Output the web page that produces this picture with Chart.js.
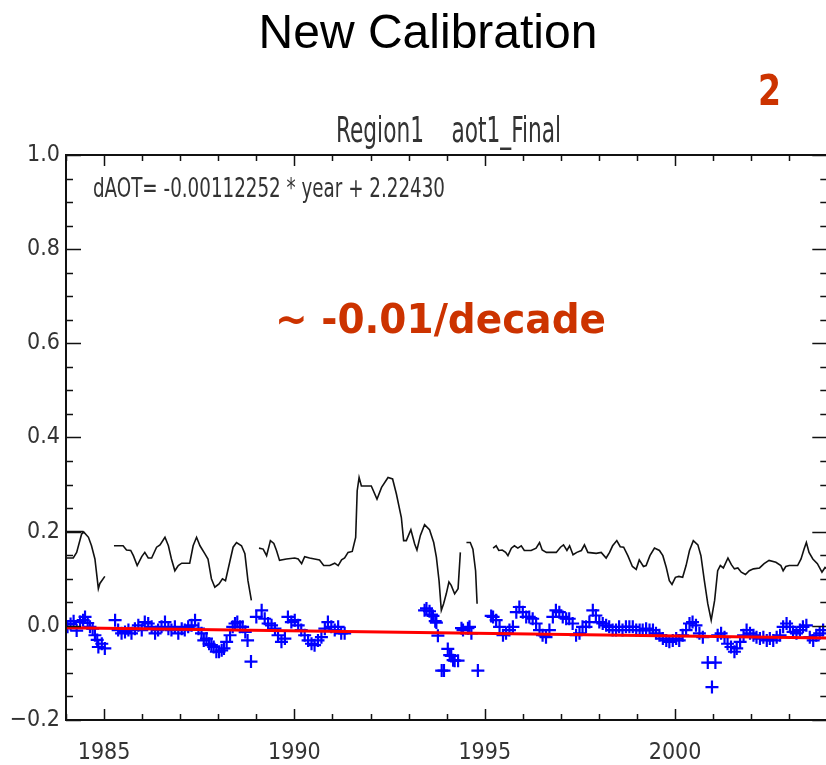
<!DOCTYPE html>
<html>
<head>
<meta charset="utf-8">
<title>New Calibration - Region1 aot1_Final</title>
<script src="https://cdn.jsdelivr.net/npm/chart.js@4/dist/chart.umd.min.js"></script>
<style>
  html, body { margin: 0; padding: 0; background: #fff; overflow: hidden; }
  #wrap { position: absolute; left: 0; top: 0; width: 836px; height: 765px; }
</style>
</head>
<body>
<div id="wrap"><canvas id="aotChart" width="836" height="765"></canvas></div>
<script>
// --- Data ---
const xTickYears = [1985, 1990, 1995, 2000];
const yTickValues = [-0.2, 0.0, 0.2, 0.4, 0.6, 0.8, 1.0];

// black AOT curve (null = gap in the record)
const aotYears = [
  1984.00, 1984.46, 1984.46,
  1984.00, 1984.19, 1984.28, 1984.41, 1984.47, 1984.59, 1984.67, 1984.76, 1984.85, 1984.89, 1985.02, 1985.10,
  1985.26, 1985.50, 1985.59, 1985.70, 1985.77, 1985.87, 1985.99, 1986.07, 1986.16, 1986.25, 1986.38, 1986.47,
  1986.60, 1986.69, 1986.77, 1986.86, 1986.95, 1987.04, 1987.25, 1987.34, 1987.43, 1987.52, 1987.65, 1987.73,
  1987.82, 1987.91, 1988.02, 1988.11, 1988.19, 1988.30, 1988.39, 1988.48, 1988.61, 1988.70, 1988.78, 1988.87, 1988.95,
  1989.07, 1989.18, 1989.27, 1989.37, 1989.46, 1989.53, 1989.61, 1989.79, 1990.01, 1990.10, 1990.19, 1990.27,
  1990.40, 1990.53, 1990.66, 1990.77, 1990.93, 1991.06, 1991.15, 1991.24, 1991.32, 1991.41, 1991.52, 1991.61,
  1991.65, 1991.70, 1991.76, 1992.02, 1992.17, 1992.29, 1992.46, 1992.58, 1992.68, 1992.81, 1992.87, 1992.94,
  1993.06, 1993.16, 1993.22, 1993.31, 1993.42, 1993.55, 1993.66, 1993.73, 1993.80, 1993.86, 1993.92, 1993.99,
  1994.06, 1994.12, 1994.21, 1994.30, 1994.36, 1994.44,
  1994.52, 1994.62, 1994.69, 1994.76, 1994.80, 1994.90,
  1995.22, 1995.30, 1995.37, 1995.46, 1995.55, 1995.61, 1995.70, 1995.78, 1995.87, 1995.96, 1996.04, 1996.22,
  1996.35, 1996.44, 1996.51, 1996.62, 1996.88, 1996.99, 1997.07, 1997.16, 1997.23, 1997.32, 1997.42, 1997.54,
  1997.62, 1997.71, 1997.93, 1998.06, 1998.19, 1998.28, 1998.36, 1998.47, 1998.56, 1998.65, 1998.76, 1998.88,
  1998.98, 1999.06, 1999.17, 1999.24, 1999.34, 1999.46, 1999.59, 1999.68, 1999.77, 1999.85, 1999.92, 2000.01,
  2000.10, 2000.20, 2000.29, 2000.38, 2000.48, 2000.60, 2000.68, 2000.77, 2000.86, 2000.95, 2001.04, 2001.12,
  2001.19, 2001.27, 2001.39, 2001.48, 2001.56, 2001.65, 2001.74, 2001.85, 2001.95, 2002.06, 2002.22, 2002.34,
  2002.47, 2002.65, 2002.78, 2002.84, 2002.91, 2003.00, 2003.22, 2003.31, 2003.39, 2003.45, 2003.52, 2003.62,
  2003.74, 2003.86, 2003.94, 2004.00
];
const aotValues = [
  0.200, 0.200, null,
  0.144, 0.144, 0.156, 0.195, 0.199, 0.188, 0.170, 0.142, 0.079, 0.090, 0.105, null,
  0.170, 0.170, 0.161, 0.160, 0.149, 0.128, 0.147, 0.156, 0.144, 0.144, 0.167, 0.172,
  0.188, 0.170, 0.142, 0.117, 0.128, 0.133, 0.133, 0.170, 0.188, 0.170, 0.153, 0.142,
  0.100, 0.082, 0.089, 0.100, 0.096, 0.135, 0.167, 0.177, 0.170, 0.153, 0.096, 0.054, null,
  0.165, 0.163, 0.149, 0.181, 0.175, 0.160, 0.139, 0.142, 0.144, 0.142, 0.132, 0.147,
  0.144, 0.142, 0.140, 0.128, 0.128, 0.133, 0.128, 0.140, 0.144, 0.156, 0.158, 0.188,
  0.287, 0.315, 0.297, 0.297, 0.269, 0.294, 0.315, 0.312, 0.280, 0.230, 0.181, 0.181,
  0.204, 0.174, 0.161, 0.192, 0.215, 0.204, 0.177, 0.146, 0.096, 0.033, 0.047, 0.068,
  0.093, 0.086, 0.068, 0.079, 0.156, null,
  0.177, 0.177, 0.163, 0.117, 0.047, null,
  0.165, 0.170, 0.160, 0.161, 0.156, 0.149, 0.165, 0.170, 0.165, 0.170, 0.160, 0.160,
  0.165, 0.177, 0.161, 0.156, 0.156, 0.167, 0.172, 0.160, 0.170, 0.151, 0.156, 0.160,
  0.172, 0.156, 0.154, 0.156, 0.144, 0.156, 0.170, 0.181, 0.168, 0.167, 0.149, 0.126,
  0.120, 0.140, 0.126, 0.128, 0.149, 0.165, 0.160, 0.149, 0.124, 0.096, 0.088, 0.103,
  0.105, 0.103, 0.128, 0.160, 0.181, 0.172, 0.149, 0.096, 0.047, 0.012, 0.054, 0.117,
  0.128, 0.123, 0.144, 0.130, 0.121, 0.123, 0.114, 0.109, 0.117, 0.121, 0.123, 0.132,
  0.139, 0.135, 0.128, 0.117, 0.126, 0.128, 0.128, 0.142, 0.163, 0.177, 0.156, 0.142,
  0.132, 0.114, 0.124, 0.120
];

// blue crosses: dAOT
const dYears = [
  1984.04, 1984.12, 1984.20, 1984.28, 1984.37, 1984.45, 1984.50, 1984.57, 1984.63, 1984.70, 1984.76, 1984.82, 1984.85, 1984.94, 1985.02,
  1985.29, 1985.37, 1985.46, 1985.55, 1985.64, 1985.72, 1985.81, 1985.90, 1985.99, 1986.07, 1986.16, 1986.25,
  1986.34, 1986.42, 1986.51, 1986.60, 1986.69, 1986.77, 1986.86, 1986.95, 1987.04, 1987.12, 1987.21, 1987.30,
  1987.39, 1987.48, 1987.56, 1987.62, 1987.69, 1987.76, 1987.82, 1987.88, 1987.95, 1988.02, 1988.09, 1988.15,
  1988.22, 1988.31, 1988.38, 1988.44, 1988.50, 1988.57, 1988.64, 1988.71, 1988.77, 1988.86,
  1989.00, 1989.14, 1989.22, 1989.31, 1989.40, 1989.49, 1989.57, 1989.66, 1989.75, 1989.83, 1989.92, 1990.01,
  1990.10, 1990.18, 1990.27, 1990.36, 1990.45, 1990.53, 1990.62, 1990.71, 1990.80, 1990.88, 1990.97, 1991.06,
  1991.15, 1991.23, 1991.32,
  1993.42, 1993.47, 1993.55, 1993.60, 1993.64, 1993.70, 1993.73, 1993.77, 1993.87, 1993.93, 1994.03, 1994.08,
  1994.12, 1994.17, 1994.21, 1994.30, 1994.39, 1994.43, 1994.56, 1994.60, 1994.65, 1994.82,
  1995.17, 1995.22, 1995.30, 1995.39, 1995.48, 1995.56, 1995.65, 1995.74, 1995.83, 1995.91, 1996.00, 1996.09,
  1996.17, 1996.26, 1996.35, 1996.44, 1996.52, 1996.61, 1996.70, 1996.79, 1996.87, 1996.96, 1997.05, 1997.14,
  1997.22, 1997.31, 1997.40, 1997.49, 1997.57, 1997.66, 1997.75, 1997.84, 1997.92, 1998.01, 1998.10, 1998.19,
  1998.27, 1998.36, 1998.45, 1998.53, 1998.62, 1998.71, 1998.80, 1998.89, 1998.98, 1999.07, 1999.15, 1999.24,
  1999.33, 1999.42, 1999.50, 1999.59, 1999.68, 1999.77, 1999.85, 1999.94, 2000.03, 2000.11, 2000.20, 2000.29,
  2000.38, 2000.46, 2000.55, 2000.64, 2000.73, 2000.86, 2000.97, 2001.06, 2001.12, 2001.21, 2001.30, 2001.38,
  2001.47, 2001.56, 2001.62, 2001.71, 2001.80, 2001.88, 2001.97, 2002.06, 2002.14, 2002.23, 2002.32, 2002.41,
  2002.49, 2002.58, 2002.67, 2002.76, 2002.84, 2002.93, 2003.02, 2003.10, 2003.19, 2003.28, 2003.36, 2003.45,
  2003.54, 2003.63, 2003.71, 2003.80, 2003.89
];
const dValues = [
  -0.002, 0.004, 0.010, -0.010, 0.008, 0.012, 0.019, 0.006, -0.002, -0.006, -0.020, -0.030, -0.045, -0.038, -0.048,
  0.012, -0.009, -0.016, -0.013, -0.009, -0.016, -0.006, 0.001, -0.009, 0.008, 0.005, -0.002,
  -0.016, -0.009, -0.002, 0.008, -0.006, -0.009, -0.002, -0.016, -0.006, -0.009, -0.002, 0.001,
  0.012, -0.006, -0.016, -0.031, -0.027, -0.038, -0.041, -0.045, -0.055, -0.055, -0.052, -0.048,
  -0.034, -0.020, -0.002, 0.005, 0.008, -0.002, -0.002, -0.013, -0.031, -0.076,
  0.019, 0.033, 0.015, 0.005, 0.001, -0.006, -0.020, -0.034, -0.027, 0.019, 0.008, 0.012,
  0.001, -0.009, -0.020, -0.031, -0.038, -0.041, -0.031, -0.024, -0.006, 0.008, -0.002, -0.009,
  -0.002, -0.016, -0.016,
  0.033, 0.037, 0.031, 0.024, 0.021, 0.010, 0.007, -0.021, -0.095, -0.095, -0.049, -0.062,
  -0.064, -0.073, -0.074, -0.074, -0.005, -0.009, -0.005, -0.002, -0.016, -0.095,
  0.021, 0.019, 0.012, -0.002, -0.020, -0.016, -0.009, -0.002, 0.029, 0.040, 0.029, 0.019,
  0.019, 0.015, 0.005, -0.009, -0.020, -0.024, -0.009, 0.019, 0.033, 0.029, 0.019, 0.015,
  0.015, 0.005, -0.020, -0.016, -0.002, -0.002, 0.008, 0.033, 0.022, 0.008, 0.005, 0.001,
  -0.002, -0.009, -0.009, -0.002, -0.009, -0.002, -0.002, -0.002, -0.009, -0.009, -0.009, -0.006,
  -0.009, -0.009, -0.016, -0.020, -0.027, -0.031, -0.034, -0.031, -0.027, -0.031, -0.020, -0.009,
  0.005, 0.008, 0.001, -0.016, -0.024, -0.078, -0.130, -0.078, -0.020, -0.016, -0.024, -0.038,
  -0.045, -0.055, -0.048, -0.034, -0.020, -0.009, -0.016, -0.020, -0.024, -0.027, -0.024, -0.031,
  -0.027, -0.031, -0.024, -0.020, -0.002, 0.005, -0.002, -0.013, -0.016, -0.009, -0.002, 0.001,
  -0.024, -0.031, -0.020, -0.016, -0.009
];

// red linear fit, endpoints
const fitYears = [1984, 2004];
const fitValues = [-0.004, -0.026];

const toPoints = (xs, ys) => xs.map((x, i) => ({ x: x, y: ys[i] }));

const NARROW = '"Liberation Sans Narrow", "DejaVu Sans Condensed", sans-serif';
const ORANGE = "#cc3300";

// text squeezed to a given width (the plot uses a tall, narrow vector font)
function fitText(ctx, text, x, y, font, width, color) {
  ctx.save();
  ctx.font = font;
  ctx.fillStyle = color;
  ctx.textBaseline = "alphabetic";
  ctx.textAlign = "left";
  const w = ctx.measureText(text).width;
  ctx.translate(x, y);
  ctx.scale(width / w, 1);
  ctx.fillText(text, 0, 0);
  ctx.restore();
}

// frame + inward tick marks on all four sides, plus labels
const framePlugin = {
  id: "frame",
  afterDraw(chart) {
    const { ctx, chartArea: a, scales } = chart;
    const xs = scales.x, ys = scales.y;
    ctx.save();
    ctx.strokeStyle = "#111";
    ctx.lineWidth = 2;
    ctx.strokeRect(a.left, a.top, a.right - a.left, a.bottom - a.top);
    ctx.lineWidth = 1.5;
    ctx.beginPath();
    for (let yr = Math.ceil(xs.min); yr <= xs.max; yr++) {
      const px = Math.round(xs.getPixelForValue(yr)) + 0.5;
      const len = yr % 5 === 0 ? 11 : 6;
      ctx.moveTo(px, a.bottom); ctx.lineTo(px, a.bottom - len);
      ctx.moveTo(px, a.top); ctx.lineTo(px, a.top + len);
    }
    for (let k = 0; k <= 24; k++) {
      const v = -0.2 + k * 0.05;
      const py = Math.round(ys.getPixelForValue(v)) + 0.5;
      const len = k % 4 === 0 ? 15 : 7;
      ctx.moveTo(a.left, py); ctx.lineTo(a.left + len, py);
      ctx.moveTo(a.right, py); ctx.lineTo(a.right - len, py);
    }
    ctx.stroke();
    ctx.restore();

    ctx.save();
    ctx.font = '48px "Liberation Sans", Arial, sans-serif';
    ctx.fillStyle = "#000";
    ctx.textAlign = "center";
    ctx.textBaseline = "alphabetic";
    ctx.fillText("New Calibration", 428, 48);
    ctx.restore();

    fitText(ctx, "2", 758, 105, 'bold 42px "DejaVu Sans", sans-serif', 23, ORANGE);
    fitText(ctx, "Region1    aot1_Final", 336, 142, "36px " + NARROW, 225, "#333");
    fitText(ctx, "dAOT= -0.00112252 * year + 2.22430", 93, 197, "27px " + NARROW, 352, "#333");
    fitText(ctx, "~ -0.01/decade", 275, 333, 'bold 40px "DejaVu Sans", sans-serif', 331, ORANGE);
  }
};

const ctx = document.getElementById("aotChart").getContext("2d");

new Chart(ctx, {
  type: "line",
  data: {
    datasets: [
      {
        label: "fit",
        data: toPoints(fitYears, fitValues),
        borderColor: "#ff0000",
        borderWidth: 3,
        pointRadius: 0,
        order: 0
      },
      {
        label: "dAOT",
        data: toPoints(dYears, dValues),
        showLine: false,
        pointStyle: "cross",
        pointRadius: 6.5,
        pointBorderWidth: 2.2,
        pointBorderColor: "#0000ff",
        borderColor: "#0000ff",
        order: 1
      },
      {
        label: "aot1_Final",
        data: toPoints(aotYears, aotValues),
        borderColor: "#111",
        borderWidth: 1.6,
        pointRadius: 0,
        tension: 0,
        spanGaps: false,
        order: 2
      }
    ]
  },
  options: {
    responsive: false,
    animation: false,
    devicePixelRatio: 1,
    layout: { padding: { top: 155, right: 6, left: 0, bottom: 0 } },
    plugins: {
      legend: { display: false },
      tooltip: { enabled: false }
    },
    scales: {
      x: {
        type: "linear",
        min: 1984,
        max: 2004,
        afterFit: s => { s.height = 45; },
        afterBuildTicks: s => { s.ticks = xTickYears.map(v => ({ value: v })); },
        grid: { display: false, drawTicks: false },
        border: { display: false },
        ticks: {
          padding: 19,
          color: "#333",
          font: { family: NARROW, size: 23 },
          maxRotation: 0,
          callback: v => String(v)
        }
      },
      y: {
        type: "linear",
        min: -0.2,
        max: 1.0,
        afterFit: s => { s.width = 66; },
        afterBuildTicks: s => { s.ticks = yTickValues.map(v => ({ value: v })); },
        grid: { display: false, drawTicks: false },
        border: { display: false },
        ticks: {
          padding: 6,
          color: "#333",
          font: { family: NARROW, size: 23 },
          callback: v => v.toFixed(1).replace("-", "\u2212")
        }
      }
    }
  },
  plugins: [framePlugin]
});
</script>
</body>
</html>
